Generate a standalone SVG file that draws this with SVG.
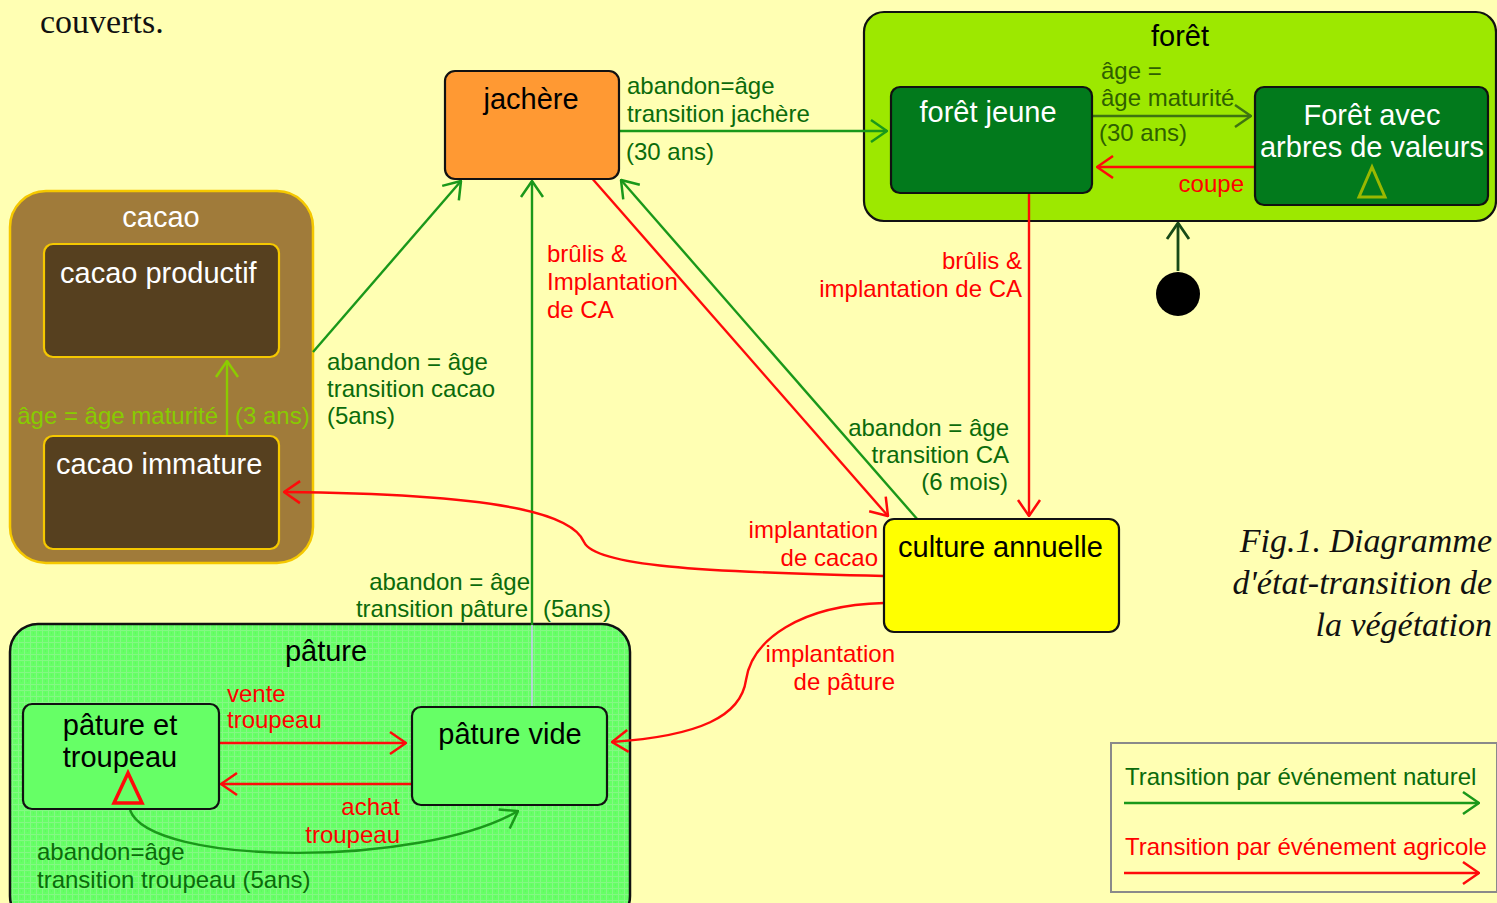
<svg xmlns="http://www.w3.org/2000/svg" width="1497" height="903" viewBox="0 0 1497 903">
<defs>
<style>
text{font-family:"Liberation Sans",Arial,sans-serif;font-size:24px}
.nd{font-size:29px;fill:#000}
.wt{font-size:29px;fill:#fff}
.lg{fill:#0B6B0B}
.lr{fill:#FF0000}
.ln{fill:none;stroke-width:2.4}
.g{stroke:#1A981A}
.r{stroke:#FF0A0A}
.e{text-anchor:end}
.m{text-anchor:middle}
.cap{font-family:"Liberation Serif","Times New Roman",serif;font-style:italic;font-size:34px;fill:#111;text-anchor:end}
</style>
<marker id="mg" viewBox="0 0 20 26" refX="19" refY="13" markerWidth="20" markerHeight="26" markerUnits="userSpaceOnUse" orient="auto"><path d="M3,2 L19,13 L3,24" fill="none" stroke="#1A981A" stroke-width="2.5"/></marker>
<marker id="mr" viewBox="0 0 20 26" refX="19" refY="13" markerWidth="20" markerHeight="26" markerUnits="userSpaceOnUse" orient="auto"><path d="M3,2 L19,13 L3,24" fill="none" stroke="#FF0A0A" stroke-width="2.5"/></marker>
<marker id="mo" viewBox="0 0 20 26" refX="19" refY="13" markerWidth="20" markerHeight="26" markerUnits="userSpaceOnUse" orient="auto"><path d="M3,2 L19,13 L3,24" fill="none" stroke="#3E7410" stroke-width="2.5"/></marker>
<marker id="my" viewBox="0 0 20 26" refX="19" refY="13" markerWidth="20" markerHeight="26" markerUnits="userSpaceOnUse" orient="auto"><path d="M3,2 L19,13 L3,24" fill="none" stroke="#8CCB00" stroke-width="2.5"/></marker>
<marker id="md" viewBox="0 0 20 26" refX="19" refY="13" markerWidth="20" markerHeight="26" markerUnits="userSpaceOnUse" orient="auto"><path d="M3,2 L19,13 L3,24" fill="none" stroke="#174A17" stroke-width="2.8"/></marker>
<pattern id="grid" width="6" height="6" patternUnits="userSpaceOnUse">
<rect width="6" height="6" fill="#66FF66"/>
<path d="M0,0.5 H6 M0.5,0 V6" stroke="#84F884" stroke-width="1"/>
<path d="M3,3 h1" stroke="#5CEF5C" stroke-width="1"/>
</pattern>
</defs>

<rect width="1497" height="903" fill="#FFFFB3"/>
<text x="40" y="33" style="font-family:'Liberation Serif','Times New Roman',serif;font-size:34px;fill:#111">couverts.</text>

<!-- containers -->
<g id="foret">
<rect x="864" y="12" width="632" height="209" rx="20" fill="#9DE800" stroke="#111" stroke-width="2.2"/>
<text x="1180" y="46" class="nd m">forêt</text>
</g>
<g id="cacao">
<rect x="10" y="191" width="303" height="372" rx="36" fill="#A07B3A" stroke="#F5C800" stroke-width="2.5"/>
<text x="161" y="227" class="wt m">cacao</text>
</g>
<g id="pature">
<rect x="10" y="624" width="620" height="300" rx="28" fill="url(#grid)" stroke="#111" stroke-width="2.5"/>
<text x="326" y="661" class="nd m">pâture</text>
</g>

<!-- connectors -->
<g id="connectors">
<path class="ln g" d="M619,131 H887" marker-end="url(#mg)"/>
<path d="M1092,116 H1251" fill="none" stroke="#3E7410" stroke-width="2.4" marker-end="url(#mo)"/>
<path class="ln r" d="M1255,167 H1097" marker-end="url(#mr)"/>
<path d="M1178,271 V223" fill="none" stroke="#174A17" stroke-width="2.8" marker-end="url(#md)"/>
<path class="ln r" d="M1029,193 V516" marker-end="url(#mr)"/>
<path class="ln r" d="M590,176 L888,516" marker-end="url(#mr)"/>
<path class="ln g" d="M918,520 L621,180" marker-end="url(#mg)"/>
<path class="ln g" d="M313,352 L461,181" marker-end="url(#mg)"/>
<path d="M532,624 V707" fill="none" stroke="#C4CCEE" stroke-width="1.6"/>
<path class="ln g" d="M532,625 V181" marker-end="url(#mg)"/>
<path d="M227,436 V361" fill="none" stroke="#8CCB00" stroke-width="2.4" marker-end="url(#my)"/>
<path class="ln r" d="M884,576 C 700,572 595,566 584,542 C 574,518 520,494 284,492" marker-end="url(#mr)"/>
<path class="ln r" d="M884,603 C 800,605 752,640 746,680 C 741,716 700,736 612,742" marker-end="url(#mr)"/>
<path class="ln r" d="M219,743 H406" marker-end="url(#mr)"/>
<path class="ln r" d="M412,784 H221" marker-end="url(#mr)"/>
<path class="ln g" d="M130,810 C 150,866 420,868 518,811" marker-end="url(#mg)"/>
</g>

<!-- nodes -->
<g id="jachere">
<rect x="445" y="71" width="174" height="108" rx="10" fill="#FF9933" stroke="#111" stroke-width="2.2"/>
<text x="531" y="109" class="nd m">jachère</text>
</g>
<g id="foret-jeune">
<rect x="891" y="87" width="201" height="106" rx="9" fill="#027A1C" stroke="#111" stroke-width="2.2"/>
<text x="988" y="122" class="wt m">forêt jeune</text>
</g>
<g id="foret-valeurs">
<rect x="1255" y="87" width="233" height="118" rx="9" fill="#027A1C" stroke="#111" stroke-width="2.2"/>
<text x="1372" y="125" class="wt m">Forêt avec</text>
<text x="1372" y="157" class="wt m">arbres de valeurs</text>
<polygon points="1372,167 1359,197 1385,197" fill="none" stroke="#9AB800" stroke-width="3"/>
</g>
<g id="initial">
<circle cx="1178" cy="294" r="22" fill="#000"/>
</g>
<g id="cacao-productif">
<rect x="44" y="244" width="235" height="113" rx="9" fill="#56401F" stroke="#F5C800" stroke-width="2.2"/>
<text x="60" y="283" class="wt">cacao productif</text>
</g>
<g id="cacao-immature">
<rect x="44" y="436" width="235" height="113" rx="9" fill="#56401F" stroke="#F5C800" stroke-width="2.2"/>
<text x="56" y="474" class="wt">cacao immature</text>
</g>
<g id="culture-annuelle">
<rect x="884" y="519" width="235" height="113" rx="10" fill="#FFFF00" stroke="#111" stroke-width="2.2"/>
<text x="898" y="557" class="nd">culture annuelle</text>
</g>
<g id="pature-troupeau">
<rect x="23" y="704" width="196" height="105" rx="9" fill="#66FF66" stroke="#111" stroke-width="2.2"/>
<text x="120" y="735" class="nd m">pâture et</text>
<text x="120" y="767" class="nd m">troupeau</text>
<polygon points="128,773 114,803 142,803" fill="none" stroke="#FF0A0A" stroke-width="3.5"/>
</g>
<g id="pature-vide">
<rect x="412" y="707" width="195" height="98" rx="9" fill="#66FF66" stroke="#111" stroke-width="2.2"/>
<text x="510" y="744" class="nd m">pâture vide</text>
</g>

<!-- labels -->
<g id="labels">
<text x="627" y="94" class="lg">abandon=âge</text>
<text x="627" y="122" class="lg">transition jachère</text>
<text x="626" y="160" class="lg">(30 ans)</text>
<text x="1101" y="79" style="fill:#2F5F00">âge =</text>
<text x="1101" y="106" style="fill:#2F5F00">âge maturité</text>
<text x="1099" y="141" style="fill:#2F5F00">(30 ans)</text>
<text x="1244" y="192" class="lr e">coupe</text>
<text x="1022" y="269" class="lr e">brûlis &amp;</text>
<text x="1022" y="297" class="lr e">implantation de CA</text>
<text x="547" y="262" class="lr">brûlis &amp;</text>
<text x="547" y="290" class="lr">Implantation</text>
<text x="547" y="318" class="lr">de CA</text>
<text x="327" y="370" class="lg">abandon = âge</text>
<text x="327" y="397" class="lg">transition cacao</text>
<text x="327" y="424" class="lg">(5ans)</text>
<text x="218" y="424" class="e" style="fill:#88CC00">âge = âge maturité</text>
<text x="235" y="424" style="fill:#88CC00">(3 ans)</text>
<text x="1009" y="436" class="lg e">abandon = âge</text>
<text x="1009" y="463" class="lg e">transition CA</text>
<text x="1008" y="490" class="lg e">(6 mois)</text>
<text x="878" y="538" class="lr e">implantation</text>
<text x="878" y="566" class="lr e">de cacao</text>
<text x="530" y="590" class="lg e">abandon = âge</text>
<text x="528" y="617" class="lg e">transition pâture</text>
<text x="543" y="617" class="lg">(5ans)</text>
<text x="895" y="662" class="lr e">implantation</text>
<text x="895" y="690" class="lr e">de pâture</text>
<text x="227" y="702" class="lr">vente</text>
<text x="227" y="728" class="lr">troupeau</text>
<text x="400" y="815" class="lr e">achat</text>
<text x="400" y="843" class="lr e">troupeau</text>
<text x="37" y="860" class="lg">abandon=âge</text>
<text x="37" y="888" class="lg">transition troupeau (5ans)</text>
</g>

<g id="legend">
<rect x="1111" y="743" width="386" height="149" fill="none" stroke="#8A8A8A" stroke-width="2"/>
<text x="1125" y="785" class="lg">Transition par événement naturel</text>
<path class="ln g" d="M1124,803 H1479" marker-end="url(#mg)"/>
<text x="1125" y="855" class="lr">Transition par événement agricole</text>
<path class="ln r" d="M1124,873 H1479" marker-end="url(#mr)"/>
</g>

<g id="caption">
<text x="1492" y="552" class="cap">Fig.1. Diagramme</text>
<text x="1492" y="594" class="cap">d'état-transition de</text>
<text x="1492" y="636" class="cap">la végétation</text>
</g>
</svg>
